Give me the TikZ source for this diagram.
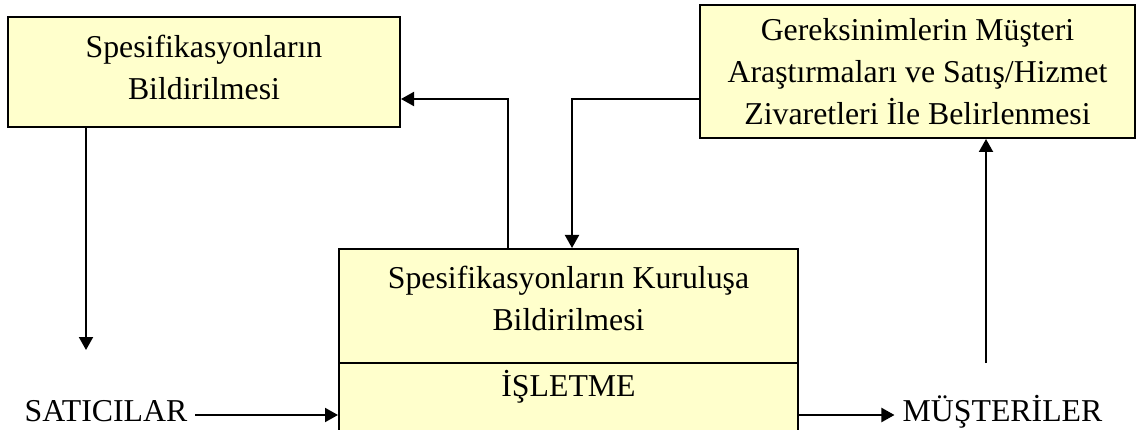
\documentclass[tikz,border=0pt]{standalone}
\usepackage{fontspec}
\setmainfont{Liberation Serif}
\usetikzlibrary{arrows.meta,calc}
\definecolor{boxfill}{HTML}{FFFFCC}
\begin{document}
\begin{tikzpicture}[x=1pt,y=-1pt,
  font=\fontsize{31.8}{42}\selectfont,
  box/.style={draw=black, fill=boxfill, line width=2pt, inner sep=0pt, align=center},
  plain/.style={inner sep=8pt},
  arr/.style={line width=2pt, -{Triangle[length=13pt,width=14pt]}},
  link/.style={line width=2pt}]
\useasboundingbox (0,0) rectangle (1137,430);
\clip (0,0) rectangle (1137,430);

% upper boxes
\node[box, minimum width=392pt, minimum height=110pt, text depth=10pt]
  (spec) at (204,72) {Spesifikasyonların\\Bildirilmesi};
\node[box, minimum width=435pt, minimum height=133pt]
  (req) at (917.5,71.5) {Gereksinimlerin Müşteri\\Araştırmaları ve Satış/Hizmet\\Zivaretleri İle Belirlenmesi};

% the firm: two stacked compartments sharing one dividing line
\node[box, minimum width=459pt, minimum height=114pt, text depth=16pt]
  (firm) at (568.5,306) {Spesifikasyonların Kuruluşa\\Bildirilmesi};
\node[box, anchor=north, minimum width=459pt, minimum height=100pt, text depth=59pt]
  (isl) at ($(firm.south)+(0,-2)$) {İŞLETME};

% outside parties
\node[plain, anchor=base] (sat) at (106,421) {SATICILAR};
\node[plain, anchor=base] (mus) at (1002.5,421) {MÜŞTERİLER};

% helper points
\coordinate (flow) at (0,415);
\coordinate (s1) at (86,350);
\coordinate (m1) at (986,363);
\coordinate (upx) at (508,99);
\coordinate (dnx) at (572,99);

% connectors
\draw[arr] (spec.south -| s1) -- (s1);
\draw[arr] (sat.east |- flow) -- (firm.west |- flow);
\draw[arr] (firm.east |- flow) -- (mus.west |- flow);
\draw[arr] (m1) -- (req.south -| m1);
\draw[arr] (firm.north -| upx) -- (upx) -- (spec.east |- upx);
\draw[arr] (req.west |- dnx) -- (dnx) -- (firm.north -| dnx);
\end{tikzpicture}
\end{document}
